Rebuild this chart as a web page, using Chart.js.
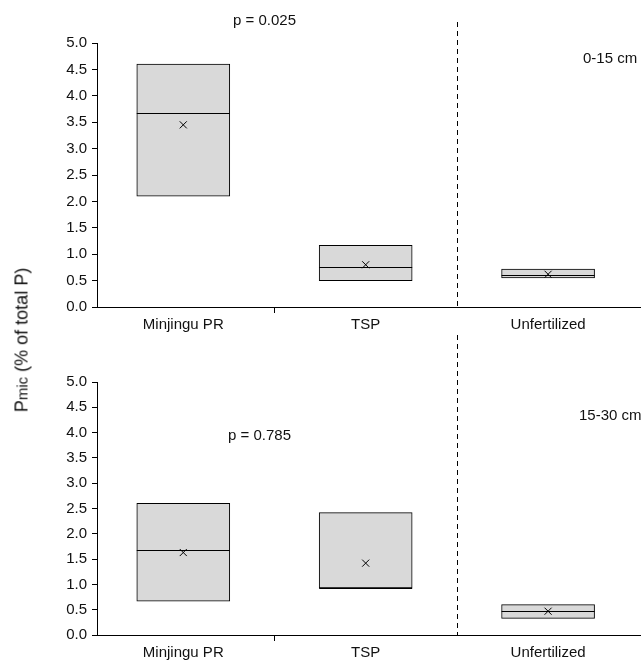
<!DOCTYPE html>
<html><head><meta charset="utf-8">
<script src="https://cdn.jsdelivr.net/npm/chart.js@4"></script>
<style>
body{margin:0;width:641px;height:665px;overflow:hidden;background:#fff;font-family:"Liberation Sans",Arial,sans-serif;position:relative}
.panel{position:absolute;left:0;width:700px}
.txt{position:absolute;font-size:15px;color:#111;white-space:nowrap}
#ytitle{position:absolute;left:22px;top:340px;transform:translate(-50%,-50%) rotate(-90deg);font-size:18px;white-space:nowrap;color:#111}
</style></head><body>
<div class="panel" style="top:0;height:335px"><canvas id="c1"></canvas></div>
<div class="panel" style="top:335px;height:330px"><canvas id="c2"></canvas></div>
<div id="ytitle">P<span style="font-size:15px">mic</span> (% of total P)</div>
<div class="txt" style="left:233px;top:11px">p = 0.025</div>
<div class="txt" style="left:583px;top:49px">0-15 cm</div>
<div class="txt" style="left:228px;top:426px">p = 0.785</div>
<div class="txt" style="left:579px;top:406px">15-30 cm</div>
<script>
// category positions on linear x axis
const categories = ['Minjingu PR', 'TSP', 'Unfertilized'];
const positions = [1, 2, 3];

// 0-15 cm
const topLow = [2.1, 0.5, 0.55];
const topHigh = [4.6, 1.17, 0.72];
const topMedian = [3.67, 0.75, 0.6];
const topMean = [3.45, 0.8, 0.62];

// 15-30 cm
const botLow = [0.67, 0.93, 0.33];
const botHigh = [2.6, 2.42, 0.6];
const botMedian = [1.67, 0.93, 0.47];
const botMean = [1.63, 1.42, 0.47];

const yTicks = [0, 0.5, 1, 1.5, 2, 2.5, 3, 3.5, 4, 4.5, 5];

const boxPlugin = {
  id: 'boxExtras',
  afterDatasetsDraw(chart) {
    const {ctx, scales: {x, y}, chartArea} = chart;
    const med = chart.options.plugins.boxExtras.median;
    const meta = chart.getDatasetMeta(0);
    ctx.save();
    ctx.strokeStyle = '#000';
    ctx.lineWidth = 1;
    meta.data.forEach((bar, i) => {
      const half = bar.width / 2;
      const yy = Math.round(y.getPixelForValue(med[i])) + 0.5;
      ctx.beginPath();
      ctx.moveTo(bar.x - half, yy);
      ctx.lineTo(bar.x + half, yy);
      ctx.stroke();
    });
    // dashed divider
    const dx = Math.round(x.getPixelForValue(2.5)) + 0.5;
    ctx.setLineDash([5, 4]);
    ctx.beginPath();
    ctx.moveTo(dx, chart.options.plugins.boxExtras.dashTop);
    ctx.lineTo(dx, chartArea.bottom);
    ctx.stroke();
    ctx.restore();
  }
};

function makeChart(id, low, high, median, mean, padTop, xHeight, dashTop) {
  new Chart(document.getElementById(id), {
    type: 'bar',
    data: {
      datasets: [{
        type: 'bar',
        data: positions.map((p, i) => ({x: p, y: [low[i], high[i]]})),
        backgroundColor: '#d9d9d9',
        borderColor: '#000',
        borderWidth: 1,
        borderSkipped: false,
        barThickness: 93,
        order: 2
      }, {
        type: 'line',
        showLine: false,
        data: positions.map((p, i) => ({x: p, y: mean[i]})),
        pointStyle: 'crossRot',
        pointRadius: 5,
        borderColor: '#000',
        backgroundColor: '#000',
        borderWidth: 1,
        order: 1
      }]
    },
    options: {
      responsive: true,
      maintainAspectRatio: false,
      animation: false,
      layout: {padding: {top: padTop, right: 0, left: 0, bottom: 0}},
      plugins: {
        legend: {display: false},
        tooltip: {enabled: false},
        boxExtras: {median: median, dashTop: dashTop}
      },
      scales: {
        x: {
          type: 'linear',
          offset: false,
          min: 0.527, max: 3.8,
          afterBuildTicks: s => { s.ticks = [{value: 1}, {value: 1.5}, {value: 2}, {value: 3}]; },
          afterFit: s => { s.height = xHeight; },
          ticks: {
            color: '#111',
            font: {family: 'Liberation Sans', size: 15},
            padding: 3,
            maxRotation: 0,
            autoSkip: false,
            callback: v => { const i = positions.indexOf(v); return i >= 0 ? categories[i] : ''; }
          },
          grid: {
            offset: false,
            drawOnChartArea: false,
            tickLength: 6,
            color: c => c.tick && c.tick.value === 1.5 ? '#000' : 'rgba(0,0,0,0)'
          },
          border: {color: '#000', width: 1}
        },
        y: {
          min: 0, max: 5,
          afterBuildTicks: s => { s.ticks = yTicks.map(v => ({value: v})); },
          afterFit: s => { s.width = 97; },
          ticks: {
            color: '#111',
            font: {family: 'Liberation Sans', size: 15},
            padding: 5,
            callback: v => v.toFixed(1)
          },
          grid: {drawOnChartArea: false, tickLength: 5, color: '#000'},
          border: {color: '#000', width: 1}
        }
      }
    },
    plugins: [boxPlugin]
  });
}

makeChart('c1', topLow, topHigh, topMedian, topMean, 43, 28, 22);
makeChart('c2', botLow, botHigh, botMedian, botMean, 47, 30, 0);
</script>
</body></html>
